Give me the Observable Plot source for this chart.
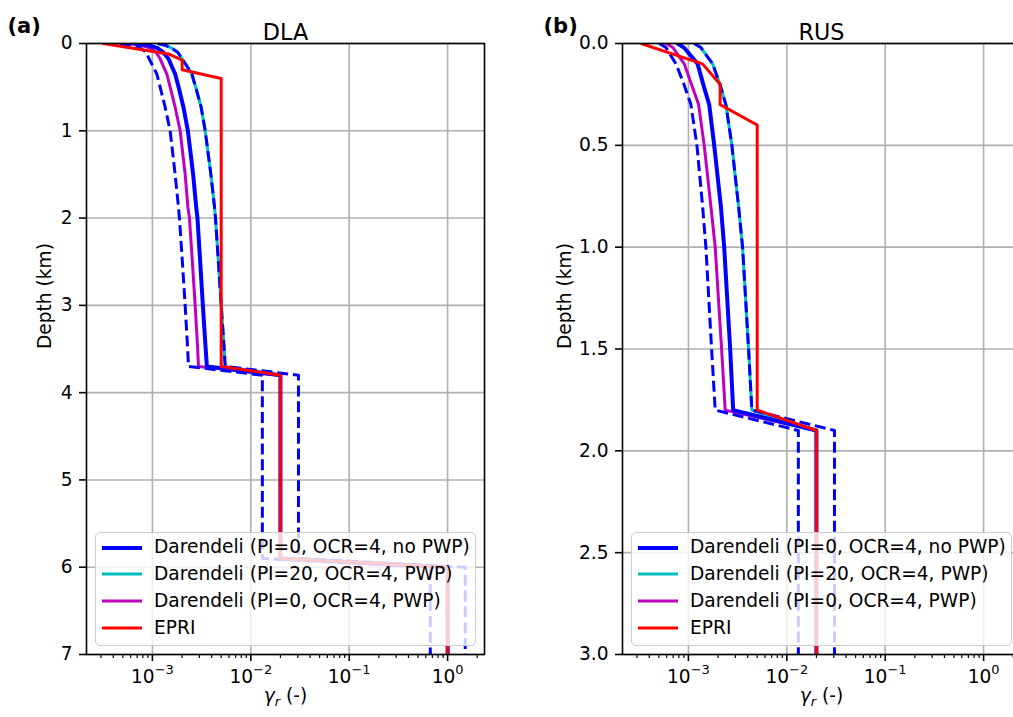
<!DOCTYPE html>
<html><head><meta charset="utf-8">
<script src="https://cdn.jsdelivr.net/npm/d3@7"></script>
<script src="https://cdn.jsdelivr.net/npm/@observablehq/plot@0.6"></script>
<style>
html,body{margin:0;padding:0;background:#fff;overflow:hidden;}
#fig{position:relative;width:1013px;height:717px;overflow:hidden;font-family:"DejaVu Sans",sans-serif;background:#fff;}
.panel{position:absolute;top:0;width:500px;height:717px;}
.panel svg{max-width:none !important;}
.legend{position:absolute;top:531.5px;width:381px;height:114px;box-sizing:border-box;border:1.6px solid #cccccc;border-radius:5px;background:rgba(255,255,255,0.8);}
.row{position:absolute;left:0;height:26.8px;width:100%;}
.sw{position:absolute;left:6px;width:40px;top:50%;transform:translateY(-50%);}
.lab{position:absolute;left:58px;top:0;line-height:26.8px;font-size:18.6px;white-space:nowrap;color:#000;}
</style></head>
<body><div id="fig"></div>
<script>
// ---------- data ----------
const xMajorTicks = [1e-3, 1e-2, 1e-1, 1];
const xMinorTicks = [3e-4,4e-4,5e-4,6e-4,7e-4,8e-4,9e-4,
  2e-3,3e-3,4e-3,5e-3,6e-3,7e-3,8e-3,9e-3,
  2e-2,3e-2,4e-2,5e-2,6e-2,7e-2,8e-2,9e-2,
  0.2,0.3,0.4,0.5,0.6,0.7,0.8,0.9,2];
const dlaYTicks = [0,1,2,3,4,5,6,7];
const rusYTicks = [0,0.5,1.0,1.5,2.0,2.5,3.0];

const legendLabels = ["Darendeli (PI=0, OCR=4, no PWP)","Darendeli (PI=20, OCR=4, PWP)","Darendeli (PI=0, OCR=4, PWP)","EPRI"];
const legendColors = ["#0000ff","#00bfbf","#bf00bf","#ff0000"];

// DLA (panel a)
const dlaDepth      = [0, 0.02, 0.05, 0.1, 0.175, 0.35, 0.5, 0.73, 1.0, 1.5, 1.87, 2.0, 2.5, 3.0, 3.5, 3.7, 3.8, 5.9, 6.0, 7.0];
const dlaNoPWP      = [6.67e-4, 9.04e-4, 1.116e-3, 1.285e-3, 1.455e-3, 1.702e-3, 1.847e-3, 2.067e-3, 2.292e-3, 2.594e-3, 2.784e-3, 2.870e-3, 3.057e-3, 3.256e-3, 3.477e-3, 3.576e-3, 0.02, 0.02, 1.0, 1.0];
const dlaNoPWPLow   = [4.69e-4, 6.07e-4, 7.497e-4, 8.628e-4, 9.256e-4, 1.109e-3, 1.198e-3, 1.347e-3, 1.514e-3, 1.702e-3, 1.838e-3, 1.882e-3, 2.015e-3, 2.151e-3, 2.281e-3, 2.324e-3, 0.0131, 0.0131, 0.667, 0.667];
const dlaNoPWPHigh  = [1.143e-3, 1.347e-3, 1.550e-3, 1.805e-3, 2.005e-3, 2.517e-3, 2.751e-3, 3.129e-3, 3.437e-3, 3.928e-3, 4.273e-3, 4.374e-3, 4.682e-3, 5.000e-3, 5.363e-3, 5.490e-3, 0.0305, 0.0305, 1.51, 1.51];
const dlaPI20PWP    = [1.143e-3, 1.347e-3, 1.550e-3, 1.805e-3, 2.005e-3, 2.517e-3, 2.751e-3, 3.129e-3, 3.437e-3, 3.928e-3, 4.273e-3, 4.374e-3, 4.682e-3, 5.000e-3, 5.363e-3, 5.490e-3, 0.02, 0.02, 1.0, 1.0];
const dlaPI0PWP     = [5.66e-4, 7.497e-4, 9.476e-4, 1.090e-3, 1.198e-3, 1.401e-3, 1.514e-3, 1.702e-3, 1.913e-3, 2.151e-3, 2.292e-3, 2.379e-3, 2.546e-3, 2.719e-3, 2.883e-3, 2.938e-3, 0.02, 0.02, 1.0, 1.0];
const dlaEpriDepth  = [0, 0.12, 0.19, 0.3, 0.4, 3.7, 3.8, 5.9, 6.0, 7.0];
const dlaEpri       = [3.17e-4, 1.455e-3, 2.005e-3, 2.005e-3, 5.0e-3, 5.0e-3, 0.02, 0.02, 1.0, 1.0];

// RUS (panel b)
const rusDepth      = [0, 0.02, 0.1, 0.2, 0.3, 0.5, 0.8, 1.0, 1.5, 1.8, 1.9, 3.0];
const rusNoPWP      = [7.77e-4, 9.00e-4, 1.240e-3, 1.413e-3, 1.626e-3, 1.828e-3, 2.138e-3, 2.309e-3, 2.657e-3, 2.850e-3, 0.02, 0.02];
const rusNoPWPLow   = [5.05e-4, 5.91e-4, 7.47e-4, 9.00e-4, 1.060e-3, 1.220e-3, 1.394e-3, 1.505e-3, 1.720e-3, 1.871e-3, 0.0131, 0.0131];
const rusNoPWPHigh  = [1.145e-3, 1.339e-3, 1.761e-3, 2.088e-3, 2.403e-3, 2.764e-3, 3.233e-3, 3.550e-3, 4.086e-3, 4.412e-3, 0.0305, 0.0305];
const rusPI20PWP    = [1.145e-3, 1.339e-3, 1.761e-3, 2.088e-3, 2.403e-3, 2.764e-3, 3.233e-3, 3.550e-3, 4.086e-3, 4.412e-3, 0.02, 0.02];
const rusPI0PWP     = [5.91e-4, 6.96e-4, 9.07e-4, 1.073e-3, 1.269e-3, 1.447e-3, 1.692e-3, 1.871e-3, 2.173e-3, 2.364e-3, 0.02, 0.02];
const rusEpriDepth  = [0, 0.1, 0.2, 0.3, 0.4, 1.8, 1.9, 3.0];
const rusEpri       = [3.3e-4, 1.39e-3, 2.1e-3, 2.1e-3, 5.0e-3, 5.0e-3, 0.02, 0.02];

// ---------- drawing ----------
const xDomain = [2.138e-4, 2.371];
const NS = "http://www.w3.org/2000/svg";
const FS = 18.6;
const rows = (ds, vs) => ds.map((d, i) => ({d, v: vs[i]}));
const supMap = {"-":"⁻","0":"⁰","1":"¹","2":"²","3":"³"};
const fmtPow = v => "10" + [...String(Math.round(Math.log10(v)))].map(c => supMap[c]).join("");

function makePanel(cfg) {
  const grid = {stroke: "#b0b0b0", strokeOpacity: 1, strokeWidth: 1.6};
  const line = (ds, vs, o) => Plot.line(rows(ds, vs), {x: "v", y: "d", strokeLinejoin: "round", clip: true, ...o});
  const svg = Plot.plot({
    width: 500, height: 717,
    marginLeft: 86, marginRight: 16, marginTop: 43, marginBottom: 63,
    style: {fontFamily: "'DejaVu Sans', sans-serif", fontSize: FS + "px", color: "black", background: "transparent", overflow: "visible", maxWidth: "none"},
    x: {type: "log", domain: xDomain},
    y: {domain: [0, cfg.yMax], reverse: true},
    marks: [
      Plot.gridX({ticks: xMajorTicks, ...grid}),
      Plot.gridY({ticks: cfg.yTicks, ...grid}),
      line(cfg.depth, cfg.pi20, {stroke: legendColors[1], strokeWidth: 3}),
      line(cfg.depth, cfg.pi0, {stroke: legendColors[2], strokeWidth: 3}),
      line(cfg.depth, cfg.noPWP, {stroke: legendColors[0], strokeWidth: 4}),
      line(cfg.depth, cfg.low, {stroke: legendColors[0], strokeWidth: 3, strokeDasharray: "11,4.8", strokeLinecap: "butt"}),
      line(cfg.depth, cfg.high, {stroke: legendColors[0], strokeWidth: 3, strokeDasharray: "11,4.8", strokeLinecap: "butt"}),
      line(cfg.epriDepth, cfg.epri, {stroke: legendColors[3], strokeWidth: 3}),
      Plot.frame({stroke: "black", strokeWidth: 1.6}),
      Plot.axisX({ticks: xMinorTicks, tickSize: 4, tickFormat: () => "", strokeWidth: 1.2, label: null}),
      Plot.axisX({ticks: xMajorTicks, tickSize: 7, tickPadding: 8, tickFormat: fmtPow, strokeWidth: 1.6, label: null}),
      Plot.axisY({ticks: cfg.yTicks, tickSize: 7, tickPadding: 7, tickFormat: cfg.yFmt, strokeWidth: 1.6, label: null}),
      Plot.text([cfg.title], {text: d => d, frameAnchor: "top", dy: -19.2, fontSize: 22.3}),
      Plot.text([cfg.tag], {text: d => d, frameAnchor: "top-left", dx: -79, dy: -25.4, textAnchor: "start", fontSize: 21, fontWeight: "bold"}),
      Plot.text(["Depth (km)"], {text: d => d, frameAnchor: "left", dx: cfg.ylabDx, rotate: -90, fontSize: FS}),
      Plot.text(["γr (-)"], {text: d => d, frameAnchor: "bottom", dy: 47, fontSize: FS})
    ]
  });
  // superscript exponents on x tick labels
  const back = {"⁻":"−","⁰":"0","¹":"1","²":"2","³":"3"};
  svg.querySelectorAll('g[aria-label="x-axis tick label"] text').forEach(t => {
    const s = t.textContent;
    if (!s || !s.startsWith("10")) return;
    const e = [...s.slice(2)].map(c => back[c] ?? c).join("");
    t.textContent = "";
    const a = document.createElementNS(NS, "tspan"); a.textContent = "10"; t.appendChild(a);
    const b = document.createElementNS(NS, "tspan"); b.setAttribute("dy", "-9"); b.setAttribute("font-size", "13"); b.textContent = e; t.appendChild(b);
  });
  // gamma_r label
  svg.querySelectorAll("text").forEach(t => {
    if (t.textContent !== "γr (-)") return;
    t.textContent = "";
    const g = document.createElementNS(NS, "tspan"); g.setAttribute("font-style", "italic"); g.textContent = "γ"; t.appendChild(g);
    const r = document.createElementNS(NS, "tspan"); r.setAttribute("font-style", "italic"); r.setAttribute("font-size", "13"); r.setAttribute("dy", "4"); r.textContent = "r"; t.appendChild(r);
    const p = document.createElementNS(NS, "tspan"); p.setAttribute("dy", "-4"); p.textContent = " (-)"; t.appendChild(p);
  });
  const wrap = document.createElement("div");
  wrap.className = "panel";
  wrap.style.left = cfg.left + "px";
  wrap.appendChild(svg);
  return wrap;
}

function makeLegend(left) {
  const box = document.createElement("div");
  box.className = "legend";
  box.style.left = left + "px";
  const centers = [15.2, 42.0, 68.6, 95.8];
  legendLabels.forEach((lab, i) => {
    const row = document.createElement("div");
    row.className = "row";
    row.style.top = (centers[i] - 13.4) + "px";
    const sw = document.createElement("div");
    sw.className = "sw";
    sw.style.height = (i === 0 ? 4 : 3) + "px";
    sw.style.background = legendColors[i];
    const tx = document.createElement("div");
    tx.className = "lab";
    tx.textContent = lab;
    row.appendChild(sw); row.appendChild(tx);
    box.appendChild(row);
  });
  return box;
}

const fig = document.getElementById("fig");
fig.appendChild(makePanel({left: 0, title: "DLA", tag: "(a)", yMax: 7, yTicks: dlaYTicks, yFmt: d3.format("d"), ylabDx: -41,
  depth: dlaDepth, noPWP: dlaNoPWP, low: dlaNoPWPLow, high: dlaNoPWPHigh, pi20: dlaPI20PWP, pi0: dlaPI0PWP,
  epriDepth: dlaEpriDepth, epri: dlaEpri}));
fig.appendChild(makePanel({left: 536, title: "RUS", tag: "(b)", yMax: 3, yTicks: rusYTicks, yFmt: d3.format(".1f"), ylabDx: -57,
  depth: rusDepth, noPWP: rusNoPWP, low: rusNoPWPLow, high: rusNoPWPHigh, pi20: rusPI20PWP, pi0: rusPI0PWP,
  epriDepth: rusEpriDepth, epri: rusEpri}));
fig.appendChild(makeLegend(95));
fig.appendChild(makeLegend(631));
</script></body></html>
